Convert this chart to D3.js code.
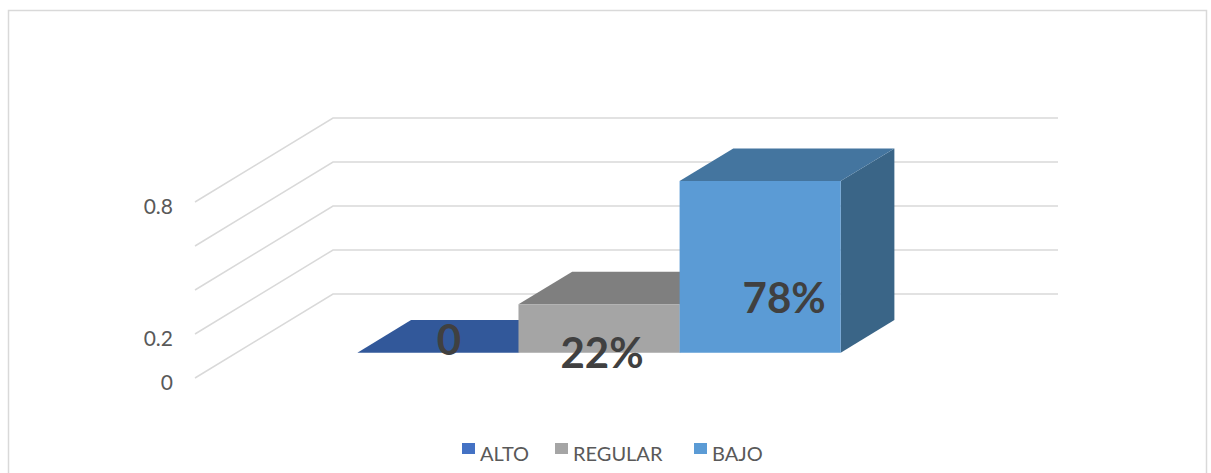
<!DOCTYPE html>
<html>
<head>
<meta charset="utf-8">
<script src="https://cdn.jsdelivr.net/npm/d3@7"></script>
<style>
  body { margin: 0; background: #fff; }
  svg { display: block; font-family: Lato, "Open Sans", sans-serif; }
</style>
</head>
<body>
<svg id="chart" width="1211" height="473"></svg>
<script>
// data
const series = ["ALTO", "REGULAR", "BAJO"];
const values = [0, 0.22, 0.78];
const valueLabels = ["0", "22%", "78%"];
const gridValues = [0, 0.2, 0.4, 0.6, 0.8];
const tickLabels = ["0", "0.2", "", "", "0.8"]; // 0.4 and 0.6 not shown in the original
const frontColors = ["#32589A", "#A5A5A5", "#5B9BD5"];
const topColors = ["#32589A", "#7F7F7F", "#44759F"];
const sideColors = ["#2A4A82", "#8C8C8C", "#3A6587"];
const legendColors = ["#4472C4", "#A5A5A5", "#5B9BD5"];

const svg = d3.select("#chart");

// outer border
svg.append("rect")
    .attr("x", 8.5).attr("y", 10.5)
    .attr("width", 1198).attr("height", 480)
    .attr("fill", "white")
    .attr("stroke", "#D9D9D9")
    .attr("stroke-width", 1.5);

// 3d frame: floor front-left at (195, 378), depth vector (138, -84)
const floorX = 195, floorY = 378, floorW = 725;
const depthX = 138, depthY = -84;

const yScale = d3.scaleLinear().domain([0, 1]).range([0, 220]);
const xScale = d3.scaleBand()
    .domain(series)
    .range([floorX, floorX + floorW])
    .paddingInner(0)
    .paddingOuter(0.75);

function proj(x, v, d) {
    return [x + d * depthX, floorY - yScale(v) + d * depthY];
}

// gridlines: side wall diagonal + back wall horizontal
const grid = svg.append("g").attr("stroke", "#D9D9D9").attr("stroke-width", 1.5).attr("fill", "none");
gridValues.forEach(v => {
    const a = proj(floorX, v, 0), b = proj(floorX, v, 1), c = proj(floorX + floorW, v, 1);
    grid.append("path").attr("d", d3.line()([a, b, c]));
});

// tick labels
svg.append("g")
    .selectAll("text")
    .data(gridValues)
    .enter()
    .append("text")
    .attr("x", floorX - 22)
    .attr("y", v => floorY - yScale(v) + 5)
    .attr("dy", "0.35em")
    .attr("text-anchor", "end")
    .attr("font-size", "21px")
    .attr("fill", "#595959")
    .text((v, i) => tickLabels[i]);

// bars
const d0 = 0.301, d1 = 0.69;
const bars = svg.append("g");
series.forEach((s, i) => {
    const x0 = xScale(s), x1 = x0 + xScale.bandwidth();
    const v = values[i];
    const line = d3.line();
    const fl = proj(x0, 0, d0), fr = proj(x1, 0, d0);
    const tl = proj(x0, v, d0), tr = proj(x1, v, d0);
    const btl = proj(x0, v, d1), btr = proj(x1, v, d1), bbr = proj(x1, 0, d1);
    // side
    bars.append("path").attr("d", line([fr, tr, btr, bbr]) + "Z").attr("fill", sideColors[i]);
    // top
    bars.append("path").attr("d", line([tl, tr, btr, btl]) + "Z").attr("fill", topColors[i]);
    // front
    bars.append("path").attr("d", line([fl, fr, tr, tl]) + "Z").attr("fill", frontColors[i]);
});

// value labels (placement nudges mimic the original)
const labelNudge = [[11, 12], [3, -49], [24, -117]];
svg.append("g")
    .selectAll("text")
    .data(series)
    .enter()
    .append("text")
    .attr("x", (s, i) => proj(xScale(s) + xScale.bandwidth() / 2, 0, d0)[0] + labelNudge[i][0])
    .attr("y", (s, i) => proj(0, values[i], d0)[1] - labelNudge[i][1])
    .attr("dy", "0.35em")
    .attr("text-anchor", "middle")
    .attr("font-size", "42px")
    .attr("font-weight", "bold")
    .attr("fill", "#404040")
    .text((s, i) => valueLabels[i]);

// legend
const legendX = [462, 555, 694];
const legend = svg.append("g");
series.forEach((s, i) => {
    legend.append("rect")
        .attr("x", legendX[i]).attr("y", 443)
        .attr("width", 13).attr("height", 11)
        .attr("fill", legendColors[i]);
    legend.append("text")
        .attr("x", legendX[i] + 18).attr("y", 461)
        .attr("font-size", "20px")
        .attr("fill", "#595959")
        .text(s);
});
</script>
</body>
</html>
